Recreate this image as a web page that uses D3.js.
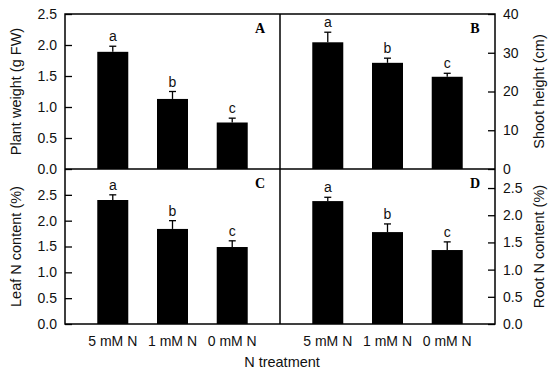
<!DOCTYPE html>
<html><head><meta charset="utf-8">
<script src="https://cdn.jsdelivr.net/npm/d3@7"></script>
<style>body{margin:0;background:#fff}svg{display:block}</style>
</head><body>
<script>
const categories = ["5 mM N", "1 mM N", "0 mM N"];
const plantWeight = [1.89, 1.13, 0.75];
const plantWeightErr = [0.09, 0.12, 0.07];
const shootHeight = [32.7, 27.4, 23.8];
const shootHeightErr = [2.6, 1.2, 0.9];
const leafN = [2.40, 1.84, 1.49];
const leafNErr = [0.10, 0.16, 0.12];
const rootN = [2.26, 1.69, 1.36];
const rootNErr = [0.07, 0.15, 0.15];
const letters = ["a", "b", "c"];
const panelLabels = ["A", "B", "C", "D"];
const yTitles = ["Plant weight (g FW)", "Shoot height (cm)", "Leaf N content (%)", "Root N content (%)"];
const xTitle = "N treatment";

const W = 550, H = 377;
const L = 65, M = 280, R = 495, T = 14, MID = 169, B = 324;
const svg = d3.select("body").append("svg").attr("width", W).attr("height", H);
const font = "'Liberation Sans', Arial, sans-serif";

const panels = [
  {vals: plantWeight, err: plantWeightErr, x0: L, x1: M, y0: T, y1: MID, dom: [0, 2.5], ticks: [0,0.5,1,1.5,2,2.5], fmt: d3.format(".1f"), side: "left", label: panelLabels[0], title: yTitles[0]},
  {vals: shootHeight, err: shootHeightErr, x0: M, x1: R, y0: T, y1: MID, dom: [0, 40], ticks: [0,10,20,30,40], fmt: d3.format("d"), side: "right", label: panelLabels[1], title: yTitles[1]},
  {vals: leafN, err: leafNErr, x0: L, x1: M, y0: MID, y1: B, dom: [0, 3.0], ticks: [0,0.5,1,1.5,2,2.5], fmt: d3.format(".1f"), side: "left", label: panelLabels[2], title: yTitles[2]},
  {vals: rootN, err: rootNErr, x0: M, x1: R, y0: MID, y1: B, dom: [0, 2.85], ticks: [0,0.5,1,1.5,2,2.5], fmt: d3.format(".1f"), side: "right", label: panelLabels[3], title: yTitles[3]},
];

panels.forEach((p, pi) => {
  const x = d3.scalePoint().domain(categories).range([p.x0, p.x1]).padding(0.8);
  const y = d3.scaleLinear().domain(p.dom).range([p.y1, p.y0]);
  const g = svg.append("g");
  const bw = 31;
  g.selectAll("rect.bar").data(p.vals).join("rect")
    .attr("x", (d, i) => x(categories[i]) - bw / 2)
    .attr("y", d => y(d))
    .attr("width", bw)
    .attr("height", d => y(0) - y(d))
    .attr("fill", "#000");
  p.vals.forEach((v, i) => {
    const cx = x(categories[i]);
    const top = y(v + p.err[i]);
    g.append("line").attr("x1", cx).attr("x2", cx).attr("y1", y(v)).attr("y2", top).attr("stroke", "#000").attr("stroke-width", 1.3);
    g.append("line").attr("x1", cx - 3.5).attr("x2", cx + 3.5).attr("y1", top).attr("y2", top).attr("stroke", "#000").attr("stroke-width", 1.3);
    g.append("text").attr("x", cx).attr("y", top - 5).attr("text-anchor", "middle")
      .style("font-family", font).style("font-size", "14px").attr("fill", "#111").text(letters[i]);
  });
  const axisX = p.side === "left" ? p.x0 : p.x1;
  const axis = (p.side === "left" ? d3.axisLeft(y) : d3.axisRight(y))
    .tickValues(p.ticks).tickFormat(p.fmt).tickSizeInner(-7).tickSizeOuter(0).tickPadding(8);
  const ag = svg.append("g").attr("transform", `translate(${axisX},0)`).call(axis);
  ag.select(".domain").remove();
  ag.selectAll("line").attr("stroke", "#000").attr("stroke-width", 1.3);
  ag.selectAll("text").style("font-family", font).style("font-size", "14px").attr("fill", "#111");
  svg.append("text").attr("x", p.x1 - 20).attr("y", p.y0 + 19)
    .attr("text-anchor", "middle").style("font-family", "'Liberation Serif', 'Times New Roman', serif")
    .style("font-weight", "bold").style("font-size", "14px").text(p.label);
  const tx = p.side === "left" ? 21 : 544;
  const ty = (p.y0 + p.y1) / 2;
  svg.append("text").attr("transform", `translate(${tx},${ty}) rotate(-90)`)
    .attr("text-anchor", "middle")
    .style("font-family", font).style("font-size", "14.5px").attr("fill", "#111").text(p.title);
  if (p.y1 === B) {
    categories.forEach(c => {
      svg.append("text").attr("x", x(c)).attr("y", B + 22).attr("text-anchor", "middle")
        .style("font-family", font).style("font-size", "14px").attr("fill", "#111").text(c);
    });
  }
});

const fr = svg.append("g").attr("stroke", "#000").attr("stroke-width", 1.5).attr("fill", "none");
fr.append("rect").attr("x", L).attr("y", T).attr("width", R - L).attr("height", B - T);
fr.append("line").attr("x1", L).attr("x2", R).attr("y1", MID).attr("y2", MID);
fr.append("line").attr("x1", M).attr("x2", M).attr("y1", T).attr("y2", B);

svg.append("text").attr("x", 282).attr("y", 367).attr("text-anchor", "middle")
  .style("font-family", font).style("font-size", "14.5px").attr("fill", "#111").text(xTitle);
</script>
</body></html>
